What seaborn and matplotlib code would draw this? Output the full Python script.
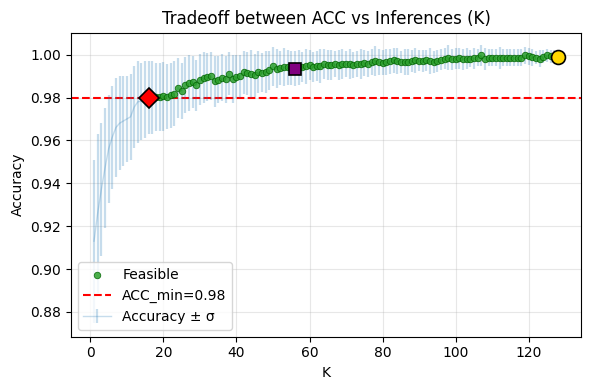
import numpy as np
import seaborn as sns
import matplotlib
matplotlib.use("Agg")
import matplotlib.pyplot as plt

# number of inferences K = 1..128
k_values = np.arange(1, 129)

# mean accuracy per K
acc_mean = [
    0.913, 0.926, 0.937, 0.947, 0.956, 0.9615, 0.966, 0.968, 0.969, 0.970,
    0.971, 0.9755, 0.978, 0.9783, 0.979, 0.980, 0.9801, 0.9802, 0.9803, 0.9805,
    0.9804, 0.981, 0.9818, 0.9846, 0.983, 0.9857, 0.9868, 0.9872, 0.9857, 0.9883,
    0.9893, 0.9896, 0.9900, 0.9875, 0.9883, 0.9893, 0.9885, 0.9911, 0.9886, 0.9896,
    0.9900, 0.9917, 0.9913, 0.9910, 0.9903, 0.9919, 0.9916, 0.9919, 0.9927, 0.9945,
    0.9935, 0.9939, 0.9942, 0.9940, 0.9938, 0.9935, 0.9940, 0.9942, 0.9945, 0.9950,
    0.9942, 0.9945, 0.9948, 0.9955, 0.9950, 0.9953, 0.9955, 0.9950, 0.9958, 0.9955,
    0.9957, 0.9950, 0.9957, 0.9958, 0.9960, 0.9955, 0.9965, 0.9970, 0.9966, 0.9963,
    0.9966, 0.9968, 0.9973, 0.9970, 0.9966, 0.9964, 0.9967, 0.9970, 0.9973, 0.9972,
    0.9970, 0.9973, 0.9970, 0.9965, 0.9970, 0.9977, 0.9981, 0.9986, 0.9978, 0.9981,
    0.9982, 0.9978, 0.9981, 0.9981, 0.9982, 0.9985, 0.9997, 0.9980, 0.9985, 0.9985,
    0.9985, 0.9985, 0.9985, 0.9985, 0.9985, 0.9985, 0.9985, 0.9985, 0.9997, 0.9992,
    0.9988, 0.9985, 0.9980, 0.9990, 0.9997, 0.9993, 0.9990, 0.9990,
]

# standard deviation per K
acc_std = [
    0.038, 0.037, 0.031, 0.028, 0.025, 0.024, 0.023, 0.022, 0.021, 0.020,
    0.020, 0.019, 0.019, 0.018, 0.018, 0.017, 0.017, 0.016, 0.016, 0.016,
    0.015, 0.015, 0.015, 0.014, 0.013, 0.013, 0.013, 0.012, 0.012, 0.012,
    0.012, 0.011, 0.011, 0.012, 0.011, 0.011, 0.011, 0.010, 0.011, 0.010,
    0.010, 0.010, 0.010, 0.011, 0.010, 0.010, 0.009, 0.010, 0.009, 0.009,
    0.009, 0.008, 0.009, 0.008, 0.008, 0.008, 0.008, 0.007, 0.008, 0.007,
    0.007, 0.007, 0.008, 0.007, 0.007, 0.007, 0.006, 0.007, 0.007, 0.006,
    0.007, 0.006, 0.006, 0.007, 0.006, 0.006, 0.006, 0.007, 0.006, 0.006,
    0.006, 0.006, 0.006, 0.006, 0.005, 0.006, 0.006, 0.005, 0.006, 0.005,
    0.005, 0.005, 0.006, 0.005, 0.005, 0.005, 0.005, 0.006, 0.005, 0.005,
    0.005, 0.005, 0.005, 0.004, 0.005, 0.004, 0.005, 0.005, 0.004, 0.004,
    0.004, 0.005, 0.004, 0.004, 0.004, 0.004, 0.004, 0.004, 0.004, 0.004,
    0.004, 0.003, 0.004, 0.003, 0.003, 0.003, 0.003, 0.003,
]

acc_min = 0.98
k_min = 16        # smallest feasible K
k_knee = 56       # knee point
k_best = 128      # best accuracy

acc_mean = np.array(acc_mean)
acc_std = np.array(acc_std)
feasible = acc_mean >= acc_min

fig, ax = plt.subplots(figsize=(5.9, 3.9), dpi=100)

sns.scatterplot(x=k_values[feasible], y=acc_mean[feasible], ax=ax,
                color="tab:green", s=22, alpha=0.85, edgecolor="darkgreen",
                linewidth=0.6, label="Feasible", zorder=3)
ax.axhline(acc_min, color="red", linestyle="--", linewidth=1.5,
           label=f"ACC_min={acc_min}")
ax.errorbar(k_values, acc_mean, yerr=acc_std, fmt="-", color="tab:blue",
            alpha=0.25, linewidth=1, elinewidth=1.6, label="Accuracy ± σ")

# highlighted points
i = k_min - 1
ax.plot(k_values[i], acc_mean[i], marker="D", markersize=10, color="red",
        markeredgecolor="black", markeredgewidth=1.2, zorder=5)
i = k_knee - 1
ax.plot(k_values[i], acc_mean[i], marker="s", markersize=9, color="purple",
        markeredgecolor="black", markeredgewidth=1.2, zorder=5)
i = k_best - 1
ax.plot(k_values[i], acc_mean[i], marker="o", markersize=10, color="gold",
        markeredgecolor="black", markeredgewidth=1.2, zorder=5)

ax.set_ylim(0.8685, 1.0102)
ax.set_xlabel("K")
ax.set_ylabel("Accuracy")
ax.set_title("Tradeoff between ACC vs Inferences (K)")
ax.grid(True, alpha=0.3)
ax.legend(loc="lower left")

fig.subplots_adjust(left=0.12, right=0.985, top=0.916, bottom=0.137)
plt.savefig("out.png")
